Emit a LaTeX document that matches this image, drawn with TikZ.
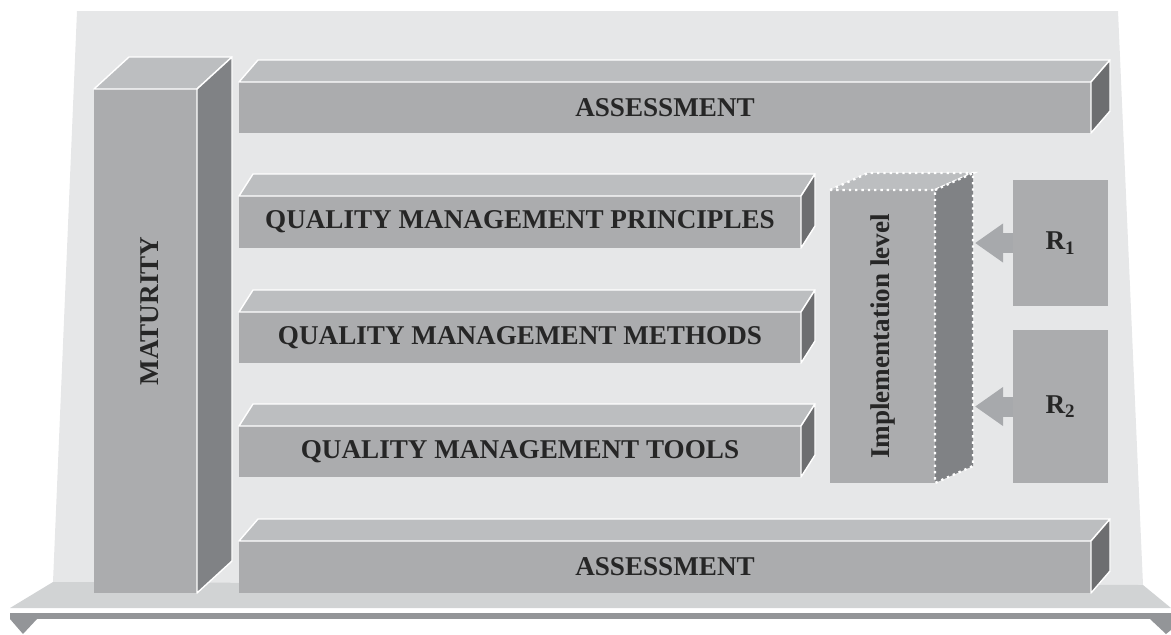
\documentclass[tikz,border=0pt]{standalone}
\usepackage{fontspec}
\setmainfont{Liberation Serif}
\usetikzlibrary{arrows.meta,calc}

\definecolor{panel}{HTML}{E6E7E8}
\definecolor{platform}{HTML}{D1D3D4}
\definecolor{rail}{HTML}{939598}
\definecolor{topface}{HTML}{BCBEC0}
\definecolor{frontface}{HTML}{ABACAE}
\definecolor{sidedark}{HTML}{6D6E70}
\definecolor{sidemid}{HTML}{808285}
\definecolor{arrowgray}{HTML}{A7A9AC}

% top and right faces of a box whose front face is the node #2
\newcommand{\prism}[5][edge]{%
  \path[#1, fill=topface] (#2.north west) -- ++(#3,#4) -- ($(#2.north east)+(#3,#4)$) -- (#2.north east) -- cycle;
  \path[#1, fill=#5] (#2.north east) -- ++(#3,#4) -- ($(#2.south east)+(#3,#4)$) -- (#2.south east) -- cycle;
}

\begin{document}
\begin{tikzpicture}[x=0.025cm, y=-0.025cm,
    facesize/.style 2 args = {minimum width=#1*0.025cm, minimum height=#2*0.025cm},
    front/.style = {fill=frontface, inner sep=0pt, outer sep=0pt, text=black!85, font=\bfseries\fontsize{19.3}{23}\selectfont},
    edge/.style = {draw=white, line width=1pt, line join=round},
    dotedge/.style = {draw=white, line width=1.7pt, dash pattern=on 1.7pt off 2.8pt},
    blockarrow/.style = {draw=arrowgray, line width=0.5cm, -{Triangle[width=0.925cm, length=0.7cm]}}]
  \useasboundingbox (0,0) rectangle (1171,634);

  % board, platform and rail
  \fill[panel] (77,11) -- (1118,11) -- (1143,585) -- (53,582) -- cycle;
  \fill[platform] (53,582) -- (1143,585) -- (1171,608) -- (10,608) -- cycle;
  \fill[rail] (10,613) rectangle (1171,619);
  \fill[rail] (10,619) -- (37,619) -- (23,634) -- cycle;
  \fill[rail] (1150,619) -- (1171,619) -- (1171,630) -- (1166,634) -- cycle;

  % maturity column
  \node (maturity) [front, facesize={103}{504}] at (145.5,341) {};
  \prism{maturity}{35}{-32}{sidemid}
  \node (maturitytext) [text=black!85, font=\bfseries\fontsize{19.3}{23}\selectfont, rotate=90] at (150,311) {MATURITY};

  % horizontal bars
  \node (assesstop) [front, facesize={852}{51}] at (665,107.5) {ASSESSMENT};
  \prism{assesstop}{19}{-22}{sidedark}
  \node (principles) [front, facesize={562}{52}] at (520,222) {QUALITY MANAGEMENT PRINCIPLES};
  \prism{principles}{14}{-22}{sidedark}
  \node (methods) [front, facesize={562}{51}] at (520,337.5) {QUALITY MANAGEMENT METHODS};
  \prism{methods}{14}{-22}{sidedark}
  \node (tools) [front, facesize={562}{51}] at (520,451.5) {QUALITY MANAGEMENT TOOLS};
  \prism{tools}{14}{-22}{sidedark}
  \node (assessbottom) [front, facesize={852}{52}] at (665,567) {ASSESSMENT};
  \prism{assessbottom}{19}{-22}{sidedark}

  % implementation level
  \node (impl) [front, facesize={105}{293}] at (882.5,336.5) {\rotatebox{90}{Implementation level}};
  \prism[dotedge]{impl}{38}{-17}{sidemid}
  \coordinate (implback) at ($(impl.east)+(40,0)$);

  % requirements
  \node (r1) [front, facesize={95}{126}] at (1060.5,243) {R\textsubscript{1}};
  \node (r2) [front, facesize={95}{153}] at (1060.5,406.5) {R\textsubscript{2}};

  \draw[blockarrow] (r1.west) -- (r1.west -| implback);
  \draw[blockarrow] (r2.west) -- (r2.west -| implback);
\end{tikzpicture}
\end{document}
